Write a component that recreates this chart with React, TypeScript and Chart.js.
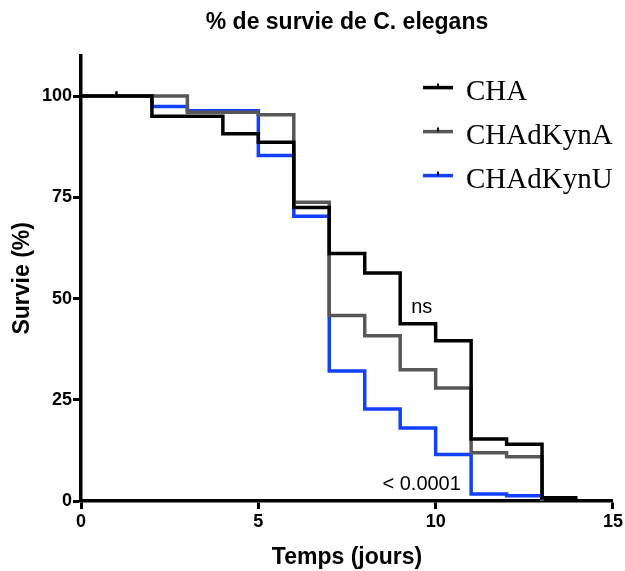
import React, { useEffect, useRef } from 'react';
import { Chart, registerables } from 'chart.js';

Chart.register(...registerables);

const titleText = '% de survie de C. elegans';
const xTitle = 'Temps (jours)';
const yTitle = 'Survie (%)';
const seriesLabels = ['CHA', 'CHAdKynA', 'CHAdKynU'];

const chaTime = [0, 2, 4, 5, 6, 7, 8, 9, 10, 11, 12, 13, 14];
const chaSurvival = [100, 95, 90.7, 88.6, 72.5, 61.1, 56.3, 43.8, 39.6, 15.3, 14, 0.8, 0.8];

const kynATime = [0, 3, 5, 6, 7, 8, 9, 10, 11, 12, 13];
const kynASurvival = [100, 96, 95.4, 73.8, 45.8, 40.8, 32.4, 27.9, 11.9, 10.9, 0];

const kynUTime = [0, 2, 3, 5, 6, 7, 8, 9, 10, 11, 12, 13];
const kynUSurvival = [100, 97.4, 96.4, 85.3, 70.3, 32.1, 22.7, 18, 11.5, 1.7, 1.3, 0];

const chaCensorTime = [1];
const chaCensorSurvival = [100.6];

const xTicks = [0, 5, 10, 15];
const yTicks = [0, 25, 50, 75, 100];

const annotationLabels = ['ns', '< 0.0001'];
const annotationX = [9.31, 8.5];
const annotationY = [46.5, 2.7];

const seriesColors = ['#000000', '#575757', '#1240ff'];

const FONT = '"Liberation Sans", Arial, Helvetica, sans-serif';

const toPoints = (xs: number[], ys: number[]) => xs.map((x, i) => ({ x, y: ys[i] }));

const overlayPlugin = {
  id: 'overlay',
  afterDatasetsDraw(chart: any) {
    const { ctx, chartArea, scales } = chart;
    ctx.save();
    // annotations
    ctx.fillStyle = '#000';
    ctx.font = `20px ${FONT}`;
    ctx.textAlign = 'left';
    ctx.textBaseline = 'alphabetic';
    annotationLabels.forEach((t, i) => {
      ctx.fillText(t, scales.x.getPixelForValue(annotationX[i]), scales.y.getPixelForValue(annotationY[i]));
    });
    // legend
    const x0 = chartArea.left + 342;
    const lineLen = 30;
    const rowTop = chartArea.top + 32;
    const rowStep = 44;
    ctx.font = `29px "Liberation Serif", "Times New Roman", Times, serif`;
    seriesLabels.forEach((label, i) => {
      const y = rowTop + i * rowStep;
      ctx.strokeStyle = seriesColors[i];
      ctx.lineWidth = 3.5;
      ctx.beginPath();
      ctx.moveTo(x0, y);
      ctx.lineTo(x0 + lineLen, y);
      ctx.stroke();
      ctx.strokeStyle = '#000';
      ctx.lineWidth = 2;
      ctx.beginPath();
      ctx.moveTo(x0 + lineLen / 2, y - 4);
      ctx.lineTo(x0 + lineLen / 2, y);
      ctx.stroke();
      ctx.fillStyle = '#000';
      ctx.fillText(label, x0 + 43, y + 12);
    });
    ctx.restore();
  },
};

export default function App() {
  const canvasRef = useRef<HTMLCanvasElement | null>(null);

  useEffect(() => {
    if (!canvasRef.current) return;
    Chart.defaults.font.family = FONT;
    const axisCommon = {
      grid: {
        display: true,
        drawOnChartArea: false,
        drawTicks: true,
        tickLength: 8,
        tickWidth: 3,
        tickColor: '#000',
      },
      border: { display: true, color: '#000', width: 3.5 },
    };
    const chart = new Chart(canvasRef.current, {
      type: 'line',
      data: {
        datasets: [
          {
            label: seriesLabels[0],
            data: toPoints(chaTime, chaSurvival),
            borderColor: seriesColors[0],
            borderWidth: 3.5,
            stepped: true,
            pointRadius: 0,
            fill: false,
          },
          {
            label: seriesLabels[1],
            data: toPoints(kynATime, kynASurvival),
            borderColor: seriesColors[1],
            borderWidth: 3.5,
            stepped: true,
            pointRadius: 0,
            fill: false,
          },
          {
            label: seriesLabels[2],
            data: toPoints(kynUTime, kynUSurvival),
            borderColor: seriesColors[2],
            borderWidth: 3.5,
            stepped: true,
            pointRadius: 0,
            fill: false,
          },
          {
            label: 'censored',
            data: toPoints(chaCensorTime, chaCensorSurvival),
            showLine: false,
            pointStyle: 'line',
            rotation: 90,
            pointRadius: 2.5,
            borderColor: '#000',
            borderWidth: 2.5,
          },
        ],
      } as any,
      options: {
        animation: false,
        responsive: false,
        layout: { padding: { top: 0, right: 11, bottom: 0, left: 0 } },
        plugins: {
          legend: { display: false },
          tooltip: { enabled: false },
          title: {
            display: true,
            text: titleText,
            fullSize: false,
            color: '#000',
            font: { size: 23, weight: 'bold' },
            padding: { top: 9, bottom: 19 },
          },
        },
        scales: {
          x: {
            type: 'linear',
            min: 0,
            max: 15,
            afterBuildTicks: (s: any) => {
              s.ticks = xTicks.map((v) => ({ value: v }));
            },
            afterFit: (s: any) => {
              s.height = 70;
            },
            ...axisCommon,
            ticks: {
              color: '#000',
              font: { size: 18, weight: 'bold' },
              padding: 2,
              maxRotation: 0,
            },
            title: {
              display: true,
              text: xTitle,
              color: '#000',
              font: { size: 23, weight: 'bold' },
              padding: { top: 0, bottom: 0 },
            },
          },
          y: {
            type: 'linear',
            min: 0,
            max: 110,
            afterBuildTicks: (s: any) => {
              s.ticks = yTicks.map((v) => ({ value: v }));
            },
            afterFit: (s: any) => {
              s.width = 81;
            },
            ...axisCommon,
            ticks: {
              color: '#000',
              font: { size: 18, weight: 'bold' },
              padding: 1,
            },
            title: {
              display: true,
              text: yTitle,
              color: '#000',
              font: { size: 23, weight: 'bold' },
              padding: { top: 9, bottom: 0 },
            },
          },
        },
      } as any,
      plugins: [overlayPlugin],
    });
    return () => chart.destroy();
  }, []);

  return (
    <div style={{ position: 'fixed', left: 0, top: 0, width: 625, height: 571, background: '#fff' }}>
      <canvas ref={canvasRef} width={625} height={571} />
    </div>
  );
}
